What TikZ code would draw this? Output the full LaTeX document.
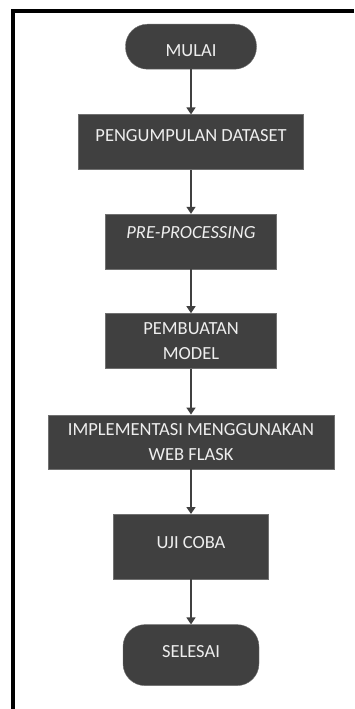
\documentclass[tikz,border=0pt]{standalone}
\usepackage{fontspec}
\setmainfont{Carlito}
\usetikzlibrary{positioning,arrows.meta}
\definecolor{boxgray}{HTML}{404040}
\definecolor{txtgray}{HTML}{EEEEEE}

\begin{document}
\begin{tikzpicture}[x=1pt,y=-1pt,
node distance=45pt,
stepbox/.style={rectangle, draw=boxgray!75!white, fill=boxgray, text=txtgray, inner xsep=0pt, inner ysep=0pt,
align=center, font=\fontsize{18.5}{25}\selectfont,
},
termbox/.style={stepbox, rounded corners=22pt,
},
flow/.style={draw=boxgray, line width=1.4pt, -{Triangle[width=9pt,length=7pt]},
}]
\useasboundingbox (0,0) rectangle (354,709);
%Frame
\coordinate (corner) at (13,11);
\draw[line width=4pt] (354,11) -- (corner) -- (13,709);
%Nodes
\node[termbox, minimum width=131pt, text height=32pt, text depth=13pt, anchor=north] (mulai) at (191,24) {MULAI};
\node[stepbox, minimum width=225pt, text height=27pt, text depth=28pt] (dataset) [below=of mulai] {PENGUMPULAN DATASET};
\node[stepbox, minimum width=171pt, text height=24pt, text depth=31pt] (prepro) [below=44pt of dataset] {\textit{PRE-PROCESSING}};
\node[stepbox, minimum width=171pt, minimum height=55pt] (model) [below=44pt of prepro] {PEMBUATAN\\MODEL};
\node[stepbox, minimum width=286pt, minimum height=54pt] (flask) [below=46pt of model] {IMPLEMENTASI MENGGUNAKAN\\WEB FLASK};
\node[stepbox, minimum width=155pt, text height=34pt, text depth=31pt] (uji) [below=of flask] {UJI COBA};
\node[termbox, minimum width=136pt, text height=33pt, text depth=28pt] (selesai) [below=of uji] {SELESAI};
%Lines
\draw[flow] (mulai.south) -- (dataset.north);
\draw[flow] (dataset.south) -- (prepro.north);
\draw[flow] (prepro.south) -- (model.north);
\draw[flow] (model.south) -- (flask.north);
\draw[flow] (flask.south) -- (uji.north);
\draw[flow] (uji.south) -- (selesai.north);
\end{tikzpicture}
\end{document}
